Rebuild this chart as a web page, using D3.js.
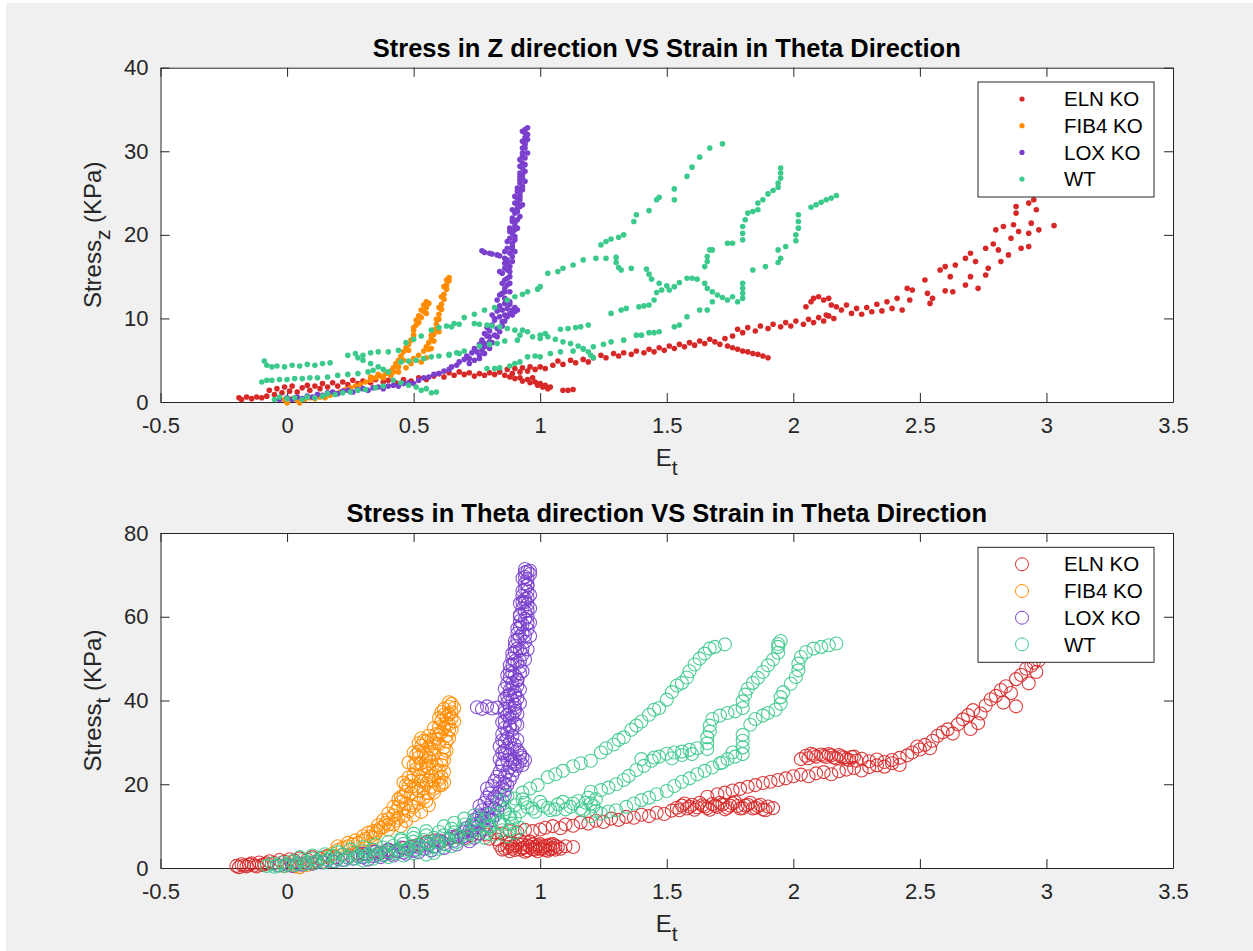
<!DOCTYPE html>
<html>
<head>
<meta charset="utf-8">
<script src="https://cdn.jsdelivr.net/npm/d3@7"></script>
<style>
  body { margin: 0; background: #ffffff; }
  text { font-family: "Liberation Sans", Arial, Helvetica, sans-serif; }
</style>
</head>
<body>
<svg id="fig" width="1253" height="951"></svg>
<script>
// ---- series and tick definitions ----
const seriesNames = ["ELN KO", "FIB4 KO", "LOX KO", "WT"];
const seriesColors = ["#d72828", "#ff8c00", "#7a40cd", "#3cc98c"];
const xTicks = [-0.5, 0, 0.5, 1, 1.5, 2, 2.5, 3, 3.5];
const xTickLabels = ["-0.5", "0", "0.5", "1", "1.5", "2", "2.5", "3", "3.5"];
const yTicksZ = [0, 10, 20, 30, 40];
const yTicksT = [0, 20, 40, 60, 80];

// ---- Stress_z vs E_t, [E_t, stress] ----
const elnZ = [
[-0.19,0.5],[-0.18,0.3],[-0.16,0.6],[-0.14,0.4],[-0.12,0.6],[-0.1,0.5],[-0.08,0.7],
[-0.07,1.4],[-0.05,0.9],[-0.04,1.6],[-0.02,1.1],[-0.01,1.8],[0.01,1.3],[0.02,1.9],[0.04,1.2],[0.06,1.7],[0.08,2.0],[0.09,1.4],[0.11,1.9],[0.13,1.6],[0.14,2.2],[0.16,1.8],[0.18,2.3],[0.2,1.9],[0.22,2.4],[0.24,2.1],[0.26,2.6],[0.28,2.2],[0.3,2.5],[0.33,2.3],[0.35,2.7],[0.38,2.4],[0.4,2.6],[0.43,2.3],[0.46,2.7],[0.49,2.5],
[0.52,2.9],[0.55,2.7],[0.58,3.1],[0.6,3.4],[0.62,3.0],[0.64,3.5],[0.66,3.2],[0.68,3.6],[0.7,3.3],[0.72,3.5],[0.74,3.1],[0.76,3.4],[0.78,3.2],[0.8,3.5],[0.82,3.3],[0.84,3.6],[0.86,3.2],[0.87,3.9],[0.89,3.4],[0.9,4.0],[0.92,3.6],[0.93,4.1],[0.95,3.7],[0.96,4.2],[0.98,3.9],[1.0,4.2],[1.02,4.0],
[0.88,3.0],[0.9,2.8],[0.92,2.9],[0.93,2.5],[0.95,2.7],[0.96,2.3],[0.98,2.4],[0.99,2.0],[1.0,2.2],[1.01,1.8],[1.02,2.0],[1.03,1.6],[1.04,1.8],[0.97,2.9],[1.09,1.4],[1.11,1.4],[1.13,1.5],
[1.05,4.4],[1.07,4.9],[1.09,4.5],[1.12,5.0],[1.14,4.7],[1.17,5.1],[1.19,4.8],[1.21,5.3],[1.24,5.6],[1.26,5.3],[1.29,5.8],[1.31,5.5],[1.33,5.9],[1.36,5.7],[1.38,6.1],[1.41,5.9],[1.43,6.3],[1.45,6.0],[1.47,6.5],[1.49,6.2],[1.51,6.7],[1.53,6.4],[1.55,6.9],[1.57,6.6],[1.59,7.1],[1.61,6.8],[1.63,7.3],[1.65,7.0],[1.67,7.5],[1.69,7.2],[1.71,6.9],[1.73,7.6],[1.74,6.7],[1.76,6.5],[1.78,6.3],[1.8,6.1],[1.82,6.0],[1.84,5.8],[1.86,5.7],[1.88,5.5],[1.9,5.3],
[1.76,7.9],[1.78,8.7],[1.8,8.3],[1.82,8.9],[1.85,8.5],[1.87,9.1],[1.9,8.8],[1.92,9.3],[1.95,9.0],[1.97,9.5],[1.99,9.1],[2.01,9.7],[2.04,9.3],[2.06,9.9],[2.08,9.5],[2.1,10.1],[2.12,9.7],[2.14,10.3],[2.16,10.0],
[2.05,11.4],[2.07,12.0],[2.08,12.4],[2.1,12.6],[2.12,12.2],[2.14,12.4],[2.15,11.6],[2.17,11.4],[2.13,10.4],[2.19,11.0],[2.21,11.6],[2.23,10.6],[2.25,11.2],[2.27,10.5],[2.29,11.3],[2.31,10.8],[2.33,11.7],[2.35,10.9],[2.37,12.0],[2.39,11.2],[2.41,12.4],[2.43,11.0],[2.45,13.6],[2.47,13.4],[2.46,12.2],[2.52,14.6],[2.53,13.0],[2.54,11.8],[2.55,12.4],
[2.58,15.8],[2.6,16.2],[2.62,15.0],[2.63,13.2],[2.6,13.3],[2.64,16.4],[2.68,17.2],[2.7,17.8],[2.72,16.8],[2.68,14.0],[2.7,15.0],[2.73,13.6],[2.76,15.2],[2.77,16.0],[2.76,18.4],[2.79,18.9],[2.81,18.2],[2.8,20.6],[2.83,21.0],[2.82,16.8],[2.85,17.6],[2.86,19.6],[2.87,21.2],[2.88,22.6],[2.88,23.4],[2.89,20.4],[2.9,18.4],[2.93,18.6],[2.93,20.2],[2.94,21.4],[2.93,23.8],[2.95,24.2],[2.96,23.0],[2.97,20.6],[3.03,21.1]
];
const fibZ = [
[-0.01,0.3],[0.0,-0.1],[0.02,0.4],[0.04,0.2],[0.05,-0.1],[0.07,0.3],[0.09,0.5],[0.11,0.4],[0.13,0.6],[0.15,0.5],[0.17,0.8],[0.19,1.0],[0.21,1.2],[0.23,1.5],[0.25,1.7],[0.27,1.9],[0.29,2.1],[0.31,2.4],[0.33,2.6],[0.35,2.9],[0.37,3.1],[0.39,3.4],[0.41,3.7],[0.42,4.1],[0.43,4.6],[0.44,5.0],[0.45,5.5],[0.46,6.0],[0.47,6.5],[0.48,6.9],[0.49,7.4],[0.5,8.0],[0.5,8.6],[0.51,9.2],[0.51,9.8],[0.52,10.3],[0.53,10.1],[0.54,10.8],[0.55,11.3],[0.56,11.8],[0.55,10.6],
[0.38,2.9],[0.41,3.2],[0.44,3.6],[0.47,4.1],[0.49,4.6],[0.5,5.2],[0.52,5.6],[0.54,6.1],[0.55,6.6],[0.56,7.1],[0.57,7.6],[0.58,7.3],[0.58,8.1],[0.59,8.7],[0.59,9.3],[0.6,9.9],[0.6,10.5],[0.61,11.1],[0.61,11.7],[0.62,12.3],[0.62,12.9],[0.63,13.5],[0.63,14.0],[0.64,14.5],[0.64,14.9],[0.57,6.4],[0.55,5.3],[0.53,4.8],
[0.5,8.9],[0.52,9.5],[0.53,11.0],[0.55,12.0],[0.54,11.6],[0.48,6.2],[0.46,5.0],[0.44,4.2],[0.42,3.6],[0.36,3.3],[0.33,3.0],[0.58,8.6],[0.57,8.0],[0.59,9.9],[0.6,11.3],[0.61,12.6],[0.62,13.8],[0.63,14.6],[0.6,8.4],[0.56,6.3]
];
const loxZ = [
[-0.03,0.3],[0.0,0.5],[0.02,0.3],[0.04,0.6],[0.06,0.4],[0.08,0.7],[0.1,0.6],[0.12,0.9],[0.14,0.8],[0.16,1.1],[0.18,1.2],[0.2,1.0],[0.22,1.3],[0.24,1.4],[0.26,1.2],[0.28,1.5],[0.3,1.6],[0.32,1.4],[0.34,1.7],[0.36,1.8],[0.38,1.6],[0.4,1.9],[0.42,2.0],[0.44,1.9],[0.46,2.2],[0.48,2.3],[0.5,2.2],[0.52,2.6],[0.54,2.9],[0.56,3.0],[0.58,3.3],[0.6,3.4],[0.62,3.7],[0.64,3.9],[0.65,4.2],[0.67,4.4],[0.68,4.8],[0.7,5.1],[0.71,5.5],[0.72,5.2],[0.73,5.9],[0.74,6.4],[0.75,6.0],[0.76,6.9],[0.77,7.4],[0.78,7.0],[0.79,7.9],[0.8,8.5],[0.79,8.9],[0.81,9.2],[0.82,9.8],[0.81,10.4],[0.83,10.9],[0.84,11.5],[0.83,12.2],
[0.76,5.2],[0.78,5.8],[0.8,6.4],[0.81,7.1],[0.83,7.8],[0.84,8.4],[0.85,9.1],[0.86,9.7],[0.87,10.2],[0.88,10.6],[0.89,11.0],[0.9,11.3],[0.91,11.0],[0.88,11.7],[0.86,12.4],
[0.85,13.0],[0.86,13.6],[0.85,14.2],[0.87,14.8],[0.85,15.4],[0.86,16.0],[0.87,16.6],[0.86,17.2],[0.88,17.8],[0.87,18.4],[0.89,19.0],[0.88,19.6],[0.89,20.2],[0.88,20.8],[0.9,21.4],[0.89,22.0],[0.9,22.6],[0.91,23.2],[0.9,23.8],[0.91,24.4],[0.92,25.0],[0.91,25.6],[0.92,26.2],[0.93,26.8],[0.92,27.4],[0.93,28.0],[0.93,28.6],[0.94,29.2],[0.93,29.8],[0.94,30.4],[0.94,31.0],[0.94,31.6],[0.94,32.2],[0.94,32.6],
[0.88,13.2],[0.87,14.0],[0.88,15.0],[0.87,15.8],[0.89,16.8],[0.88,16.2],[0.9,18.0],[0.89,18.6],[0.9,19.8],[0.91,20.8],[0.9,21.0],[0.92,22.2],[0.91,22.8],[0.93,23.6],[0.92,24.6],[0.93,25.4],[0.92,27.0],[0.94,27.6],[0.93,30.4],[0.95,31.4],[0.92,29.0],
[0.84,12.8],[0.86,13.2],[0.88,14.2],[0.86,14.6],[0.84,15.6],[0.88,15.6],[0.86,16.6],[0.89,17.4],[0.87,17.0],[0.86,18.0],[0.89,18.2],[0.87,19.2],[0.9,19.4],[0.88,20.4],[0.9,20.6],[0.89,21.6],[0.91,21.8],[0.89,23.0],[0.91,23.8],[0.92,23.4],[0.9,24.6],[0.92,24.2],[0.91,25.2],[0.93,25.8],[0.92,26.6],[0.94,26.4],[0.93,27.2],[0.92,28.2],[0.94,28.4],[0.93,29.4],[0.95,29.8],[0.94,30.8],[0.93,31.2],[0.95,32.0],[0.93,32.4],[0.95,32.8],
[0.72,4.6],[0.74,5.0],[0.76,5.6],[0.77,6.2],[0.78,6.6],[0.8,7.2],[0.82,8.0],[0.83,8.8],[0.85,9.6],[0.86,10.4],[0.85,11.0],[0.87,11.2],[0.89,10.4],[0.9,10.8],[0.88,12.0],[0.86,11.8],[0.84,10.2],[0.8,7.8],[0.78,8.2],[0.82,10.0],
[0.77,18.1],[0.78,17.9],[0.8,17.8],[0.81,17.7],[0.83,17.6],[0.84,17.5]
];
const wtZ = [
[-0.09,4.9],[-0.08,4.4],[-0.06,4.2],[-0.04,4.3],[-0.01,4.2],[0.02,4.4],[0.05,4.3],[0.08,4.5],[0.11,4.4],[0.14,4.6],[0.17,4.7],[0.24,5.6],[0.27,5.8],[0.3,5.6],[0.33,5.9],[0.36,6.0],[0.4,6.0],[0.44,6.2],[0.47,7.1],[0.5,7.5],[0.53,7.9],[0.57,8.6],[0.6,8.9],[0.63,9.1],[0.66,9.4],[0.7,10.1],[0.74,10.5],[0.78,11.0],[0.82,11.3],[0.87,12.2],[0.9,12.6],[0.93,12.9],[0.95,13.2],[0.99,13.5],[1.0,13.8],[1.03,15.4],[1.07,15.6],[1.09,16.0],[1.13,16.4],[1.17,17.0],[1.22,17.2],[1.26,17.2],[1.24,18.8],[1.26,19.2],[1.28,19.5],[1.31,19.7],[1.33,20.0],[1.37,21.6],[1.38,22.4],[1.43,22.9],[1.46,24.2],[1.47,24.5],[1.53,24.2],[1.53,25.5],[1.58,27.0],[1.6,28.1],[1.63,29.3],[1.67,30.4],[1.72,30.9],
[-0.1,2.4],[-0.08,2.6],[-0.06,2.6],[-0.03,2.7],[0.0,2.7],[0.03,2.8],[0.06,2.8],[0.09,2.9],[0.12,2.9],[0.16,3.0],[0.2,3.2],[0.24,3.3],[0.28,3.4],[0.32,3.6],[0.34,3.8],[0.28,5.3],[0.3,5.0],[0.33,4.6],[0.36,4.2],[0.38,3.9],[0.4,3.6],[0.42,2.6],[0.45,2.3],[0.48,2.0],[0.51,1.8],[0.53,1.4],[0.55,1.6],[0.57,1.1],[0.59,1.2],
[-0.05,0.3],[-0.03,0.6],[0.0,0.4],[0.03,0.5],[0.06,0.3],[0.08,0.6],[0.11,0.5],[0.14,0.7],[0.16,1.0],[0.19,0.9],[0.22,1.1],[0.25,1.2],[0.28,1.4],[0.31,1.5],[0.35,1.7],[0.38,1.9],
[0.45,4.8],[0.48,4.9],[0.51,5.0],[0.54,5.2],[0.57,5.4],[0.6,5.5],[0.64,5.7],[0.67,5.9],[0.7,6.1],[0.76,6.7],[0.8,6.9],[0.83,7.0],[0.86,7.3],[0.91,7.4],[0.92,8.0],[0.93,8.6],[0.97,7.8],[1.0,8.0],[1.02,8.2],[1.0,7.6],
[0.65,9.0],[0.68,9.3],[0.74,9.4],[0.76,9.3],[0.79,9.2],[0.81,9.1],[0.84,9.0],[0.87,8.8],[0.9,8.6],[0.95,8.4],[1.03,7.8],[1.06,7.5],[1.09,7.2],[1.12,7.0],[1.15,6.7],[1.17,6.4],[1.19,6.0],[1.2,5.6],[1.21,5.3],
[0.64,5.6],[0.68,5.8],[0.79,4.0],[0.82,4.0],[0.84,4.1],[0.88,4.3],[0.9,4.6],[0.92,4.8],[0.95,5.4],[0.98,5.5],[1.0,5.4],[1.04,5.8],[1.08,6.0],[1.13,6.1],[1.17,6.3],[1.21,6.6],[1.25,6.9],[1.28,7.2],[1.33,7.4],[1.38,8.0],[1.4,8.0],[1.43,8.3],[1.45,8.3],[1.47,8.4],[1.53,9.0],[1.55,9.2],[1.58,10.2],[1.63,11.0],[1.66,11.0],[1.68,12.0],
[1.84,15.8],[1.89,16.2],[1.94,16.7],[1.95,17.2],[1.94,18.2],[1.97,18.6],[2.01,19.3],[2.01,20.0],[2.02,20.8],[2.02,21.6],[2.02,22.4],[2.07,23.3],[2.09,23.6],[2.11,23.9],[2.13,24.2],[2.15,24.4],[2.17,24.7],
[1.08,8.7],[1.11,8.8],[1.14,8.9],[1.16,9.0],[1.19,9.2],[1.28,10.6],[1.32,11.0],[1.34,11.2],[1.39,11.4],[1.41,11.5],[1.43,11.6],[1.45,12.2],[1.46,13.1],[1.48,13.4],[1.51,13.4],[1.53,13.8],[1.55,14.3],[1.58,14.8],[1.6,14.8],[1.62,14.7],[1.65,14.2],[1.66,13.6],[1.68,13.2],[1.7,12.8],[1.72,12.5],[1.74,12.2],[1.76,12.6],[1.78,12.0],[1.8,12.4],[1.8,13.0],[1.8,13.6],[1.8,14.2],
[1.3,17.3],[1.3,16.7],[1.31,16.1],[1.32,15.8],[1.36,16.0],[1.42,15.9],[1.43,15.3],[1.44,14.7],[1.47,14.2],[1.5,13.9],
[1.65,16.2],[1.66,16.8],[1.66,17.4],[1.67,18.2],[1.68,18.2],[1.74,19.0],[1.76,19.0],[1.8,19.4],[1.8,20.2],[1.8,21.0],[1.81,21.8],[1.82,22.6],[1.84,22.8],[1.86,23.0],[1.86,23.8],[1.88,24.2],[1.9,24.9],[1.92,25.3],[1.94,25.7],[1.94,26.2],[1.95,26.8],[1.95,27.4],[1.95,28.0]
];

// ---- Stress_t vs E_t, [E_t, stress] ----
const elnT = [
[-0.2,0.5],[-0.18,0.9],[-0.16,0.4],[-0.14,1.1],[-0.13,0.6],[-0.11,1.3],[-0.09,0.9],[-0.07,1.6],[-0.05,1.2],[-0.03,1.9],[-0.01,1.5],[0.01,2.1],[0.03,1.7],[0.05,2.3],[0.08,2.0],[0.1,2.6],[0.13,2.3],[0.16,2.9],[0.19,2.6],[0.22,3.2],[0.25,3.0],[0.28,3.5],[0.31,3.3],[0.34,3.9],[0.37,3.7],[0.4,4.3],[0.43,4.1],[0.46,4.8],[0.49,5.1],[0.52,5.6],[0.55,6.2],[0.58,6.6],[0.61,6.3],[0.64,7.0],[0.67,7.4],[0.7,7.1],[0.73,7.8],[0.76,8.3],[0.79,8.0],[0.82,8.5],[0.85,8.2],[0.88,8.8],[0.91,8.5],[0.94,9.1],[0.97,8.8],[1.0,9.2],
[-0.19,0.2],[-0.17,0.6],[-0.15,0.8],[-0.12,0.4],[-0.1,0.7],[-0.08,1.1],
[0.84,5.5],[0.86,4.6],[0.87,6.2],[0.88,4.0],[0.89,5.1],[0.9,4.3],[0.91,5.8],[0.92,6.6],[0.93,4.8],[0.94,3.9],[0.95,5.4],[0.96,6.3],[0.97,4.5],[0.98,5.1],[0.99,4.0],[1.0,5.7],[1.01,4.6],[1.02,5.2],[1.03,4.1],[1.04,5.6],[1.05,4.8],[1.06,5.3],[1.1,5.2],[1.13,5.0],[0.8,7.0],[0.83,6.8],
[0.85,4.4],[0.87,5.0],[0.88,5.8],[0.89,4.6],[0.9,5.4],[0.92,4.4],[0.93,5.6],[0.94,4.9],[0.95,4.2],[0.96,5.0],[0.97,5.6],[0.98,4.4],[0.99,5.4],[1.0,4.6],[1.01,5.2],[1.02,4.3],[1.03,5.4],[1.04,4.5],[1.05,5.7],[1.06,4.4],[1.07,5.0],[1.08,4.6],
[1.02,9.6],[1.05,10.0],[1.08,9.5],[1.1,10.4],[1.13,10.1],[1.16,10.9],[1.19,10.6],[1.22,11.3],[1.25,11.0],[1.28,11.8],[1.31,11.5],[1.34,12.2],[1.37,12.0],[1.4,12.7],[1.43,12.4],[1.46,13.2],[1.49,12.9],[1.52,13.7],[1.54,14.4],[1.56,14.9],[1.58,14.2],[1.6,15.1],[1.62,14.5],[1.64,15.0],[1.66,14.3],[1.68,15.3],[1.7,14.6],[1.72,15.2],[1.74,14.4],[1.76,15.4],[1.78,14.8],[1.8,14.3],[1.82,15.1],[1.84,14.2],[1.86,14.8],[1.88,14.0],[1.9,14.7],[1.92,14.3],
[1.55,13.8],[1.57,15.4],[1.59,14.6],[1.61,13.9],[1.63,15.6],[1.65,14.7],[1.67,13.9],[1.69,14.9],[1.71,15.6],[1.73,14.0],[1.75,14.9],[1.77,15.8],[1.79,14.2],[1.81,14.9],[1.83,15.6],[1.85,14.4],[1.87,15.1],[1.89,13.8],
[1.66,17.0],[1.7,17.6],[1.73,18.0],[1.76,18.5],[1.79,18.9],[1.82,19.4],[1.85,19.8],[1.88,20.3],[1.91,20.6],[1.94,21.0],[1.97,21.4],[2.0,21.9],[2.03,22.3],[2.06,21.9],[2.09,22.6],[2.12,22.9],[2.15,22.4],[2.18,23.1],[2.21,23.5],[2.24,23.9],[2.27,23.3],[2.3,24.1],[2.33,24.5],[2.36,24.2],[2.39,25.0],[2.42,24.6],
[2.03,26.0],[2.05,26.8],[2.07,27.3],[2.09,26.6],[2.11,27.1],[2.13,26.5],[2.15,26.9],[2.17,26.2],[2.19,26.7],[2.21,26.0],[2.23,26.5],[2.25,25.6],[2.27,26.1],[2.3,25.5],[2.33,25.9],[2.36,25.3],[2.39,25.8],[2.42,26.3],[2.45,26.9],
[2.06,26.2],[2.08,27.0],[2.12,26.8],[2.14,27.2],[2.16,26.4],[2.18,27.0],[2.2,26.4],[2.22,25.8],[2.24,26.6],
[2.47,27.6],[2.49,29.0],[2.5,28.3],[2.52,29.4],[2.54,28.6],[2.55,30.4],[2.57,31.6],[2.59,32.4],[2.61,33.1],[2.63,32.1],[2.65,34.3],[2.67,35.5],[2.69,36.5],[2.7,33.2],[2.71,37.7],[2.73,34.6],[2.74,36.9],[2.76,38.8],[2.78,40.3],[2.8,41.1],[2.82,42.5],[2.83,39.5],[2.84,43.4],[2.86,41.8],[2.88,45.1],[2.88,38.6],[2.9,46.1],[2.92,47.6],[2.93,44.1],[2.94,48.3],[2.96,46.8],[2.97,49.6],[2.95,49.0]
];
const fibT = [
[-0.01,0.5],[0.01,0.9],[0.03,0.4],[0.05,0.2],[0.06,1.0],[0.08,0.7],[0.1,1.2],[0.12,1.7],[0.14,1.5],[0.16,2.6],[0.18,3.4],[0.2,4.3],[0.22,4.8],[0.24,5.2],[0.26,5.6],[0.28,6.0],[0.3,6.5],[0.31,7.0],[0.33,7.6],[0.35,8.2],[0.36,9.0],[0.38,9.8],[0.39,10.8],[0.4,11.7],[0.42,12.6],[0.43,13.6],[0.44,14.7],[0.45,15.8],[0.46,17.0],[0.47,18.2],[0.48,19.5],[0.49,20.8],[0.5,22.2],[0.51,23.6],[0.51,25.0],[0.52,26.4],[0.52,27.8],[0.53,29.2],[0.54,30.4],
[0.34,8.8],[0.37,9.6],[0.4,10.4],[0.43,11.3],[0.46,12.4],[0.48,13.6],[0.5,14.6],[0.52,15.6],[0.54,16.8],[0.56,17.9],[0.58,19.0],[0.6,19.8],[0.62,20.4],[0.61,21.8],[0.6,23.2],[0.61,24.6],[0.61,26.0],[0.62,27.4],[0.62,28.8],[0.63,30.2],[0.63,31.6],[0.64,33.0],[0.64,34.4],[0.65,35.8],[0.65,37.2],[0.64,38.5],[0.65,39.2],
[0.45,17.0],[0.47,15.4],[0.49,17.8],[0.5,19.6],[0.52,18.4],[0.53,20.8],[0.54,22.2],[0.55,20.2],[0.56,23.8],[0.57,22.0],[0.57,25.4],[0.58,27.2],[0.55,27.0],[0.56,29.0],[0.57,30.6],[0.59,32.0],[0.6,33.6],[0.61,35.2],[0.62,36.6],[0.53,25.0],[0.55,16.0],[0.51,16.6],[0.59,24.6],[0.6,29.6],[0.58,21.0],[0.54,19.0],[0.44,12.0],[0.42,10.4],
[0.4,13.0],[0.42,14.6],[0.44,16.4],[0.46,14.2],[0.47,19.8],[0.48,21.6],[0.5,24.6],[0.51,27.0],[0.52,29.8],[0.53,31.0],[0.54,27.6],[0.55,24.4],[0.56,26.4],[0.57,28.4],[0.58,29.8],[0.59,30.8],[0.6,31.8],[0.61,32.4],[0.62,33.4],[0.63,34.6],[0.63,36.2],[0.64,36.8],[0.62,38.0],[0.64,39.6],[0.66,38.2],[0.66,35.0],[0.65,33.0],[0.64,31.0],[0.63,28.0],[0.62,25.8],[0.62,23.0],[0.6,21.2],[0.58,18.0],[0.56,15.0],[0.53,13.4],[0.5,12.6],[0.47,11.2],[0.45,10.0],[0.49,15.0],[0.51,19.0],[0.52,21.8],[0.53,23.6],[0.55,25.6],[0.57,19.4],[0.59,22.8],[0.61,19.8],[0.56,21.0],[0.46,20.4],[0.48,25.2],[0.5,27.6],[0.55,30.2],[0.56,31.6],[0.58,33.4],[0.6,35.8],[0.61,37.2],
[0.3,7.6],[0.32,8.4],[0.34,7.2],[0.36,10.2],[0.38,11.4],[0.4,9.2],[0.27,6.6],[0.24,6.0],[0.2,5.2]
];
const loxT = [
[-0.03,0.6],[0.0,0.9],[0.02,0.5],[0.04,1.1],[0.06,0.8],[0.08,1.3],[0.1,1.0],[0.12,1.6],[0.14,1.3],[0.16,1.9],[0.18,1.6],[0.2,2.2],[0.22,1.9],[0.24,2.5],[0.26,2.2],[0.28,2.8],[0.3,2.5],[0.32,3.1],[0.34,2.8],[0.36,3.4],[0.38,3.1],[0.4,3.7],[0.42,3.4],[0.44,4.0],[0.46,3.7],[0.48,4.4],[0.5,4.1],[0.52,4.9],[0.54,4.6],[0.56,5.5],[0.58,5.1],[0.6,6.1],[0.62,5.8],[0.64,6.9],[0.66,6.5],[0.67,7.7],[0.69,7.3],[0.7,8.6],[0.71,9.5],[0.72,8.9],[0.73,10.4],[0.74,11.5],[0.75,10.6],[0.76,12.6],[0.77,13.8],[0.76,14.8],[0.78,15.6],[0.79,16.8],[0.8,17.8],[0.79,19.0],[0.81,19.6],[0.82,20.8],[0.83,21.8],
[0.3,3.4],[0.35,3.9],[0.4,4.4],[0.45,4.9],[0.5,5.2],[0.55,5.9],[0.6,6.6],[0.65,7.4],[0.32,2.0],[0.37,2.6],[0.42,3.0],[0.47,3.4],[0.52,3.8],[0.57,4.2],[0.62,4.8],[0.67,5.6],
[0.72,6.4],[0.74,7.2],[0.76,8.2],[0.78,9.2],[0.79,10.4],[0.81,11.5],[0.82,12.6],[0.83,13.8],[0.84,15.0],[0.85,16.2],[0.86,17.4],[0.86,18.6],[0.87,19.8],[0.88,21.0],[0.89,22.2],[0.9,23.4],[0.91,24.4],[0.92,25.4],[0.93,26.4],[0.92,27.4],[0.9,26.0],[0.91,28.2],
[0.7,7.6],[0.73,8.8],[0.75,9.6],[0.77,11.2],[0.79,13.0],[0.8,14.4],[0.81,15.8],[0.82,17.0],[0.84,18.2],[0.85,19.4],[0.84,20.6],[0.86,21.8],[0.87,23.0],[0.8,12.0],[0.78,11.8],[0.82,14.2],[0.83,16.4],[0.86,20.2],[0.74,9.8],[0.77,12.4],
[0.84,23.0],[0.85,24.5],[0.84,26.0],[0.85,27.5],[0.84,29.0],[0.85,30.5],[0.85,32.0],[0.86,33.5],[0.86,35.0],[0.87,36.5],[0.86,38.0],[0.87,39.5],[0.87,41.0],[0.88,42.5],[0.87,44.0],[0.88,45.5],[0.88,47.0],[0.89,48.5],[0.89,50.0],[0.9,51.5],[0.9,53.0],[0.91,54.5],[0.91,56.0],[0.92,57.5],[0.92,59.0],[0.92,60.5],[0.93,62.0],[0.93,63.5],[0.93,65.0],[0.94,66.5],[0.94,68.0],[0.94,69.5],[0.95,70.8],
[0.88,24.0],[0.89,25.5],[0.88,27.0],[0.89,28.5],[0.88,30.0],[0.89,31.5],[0.89,33.0],[0.9,34.5],[0.89,36.0],[0.9,37.5],[0.9,39.0],[0.91,40.5],[0.9,42.0],[0.91,43.5],[0.91,45.0],[0.92,46.5],[0.92,48.0],[0.92,49.5],[0.93,51.0],[0.93,52.5],[0.94,54.0],[0.94,55.5],[0.95,57.0],[0.95,58.5],[0.95,60.0],[0.95,61.5],[0.95,63.0],[0.95,64.5],[0.95,66.0],[0.95,67.5],[0.95,69.0],[0.94,70.6],
[0.86,28.0],[0.87,31.0],[0.88,34.0],[0.88,37.0],[0.89,40.0],[0.89,43.0],[0.9,46.0],[0.91,49.0],[0.92,52.0],[0.93,56.0],[0.94,59.5],[0.94,63.5],
[0.85,25.0],[0.87,25.8],[0.9,24.8],[0.93,24.6],[0.94,25.8],[0.92,26.8],[0.86,27.0],[0.87,28.6],[0.9,29.4],[0.91,30.6],[0.86,30.2],[0.87,32.4],[0.88,33.6],[0.91,34.2],[0.85,34.8],[0.88,35.8],[0.91,36.8],[0.86,37.2],[0.88,38.6],[0.9,38.2],[0.92,39.4],[0.86,40.4],[0.88,41.4],[0.9,41.2],[0.92,42.6],[0.86,42.8],[0.89,44.2],[0.91,44.8],[0.87,46.0],[0.89,46.6],[0.93,47.0],[0.88,48.4],[0.9,49.4],[0.94,49.8],[0.89,51.2],[0.91,52.4],[0.95,52.2],[0.9,54.2],[0.92,55.2],[0.96,55.4],[0.91,57.2],[0.93,58.2],[0.96,58.6],[0.92,60.2],[0.94,61.2],[0.96,62.0],[0.92,63.2],[0.94,64.2],[0.96,65.2],[0.93,66.2],[0.95,67.6],[0.93,69.2],[0.96,70.2],[0.94,71.4],[0.96,71.0],
[0.75,38.4],[0.77,38.0],[0.79,38.6],[0.81,38.1],[0.83,38.3]
];
const wtT = [
[-0.08,0.5],[-0.06,1.0],[-0.04,0.6],[-0.02,1.3],[0.0,0.9],[0.02,1.6],[0.04,1.1],[0.06,1.9],[0.08,1.4],[0.1,2.2],[0.12,1.7],[0.14,2.5],[0.16,2.0],[0.18,2.9],[0.2,2.3],[0.22,3.2],[0.24,2.6],[0.26,3.6],[0.28,2.9],[0.3,4.0],[0.32,3.3],[0.34,4.4],[0.36,3.6],[0.38,4.9],[0.4,4.0],[0.42,5.3],[0.44,4.4],[0.46,5.8],[0.48,4.8],[0.5,6.3],[0.52,5.3],[0.54,6.7],[0.56,5.8],[0.58,7.2],[0.6,6.2],[0.62,7.8],[0.64,6.8],[0.66,8.5],[0.68,7.4],[0.7,9.4],[0.72,8.2],[0.74,10.4],[0.76,9.0],[0.78,11.4],[0.8,10.0],[0.82,12.4],[0.84,11.0],[0.86,13.2],[0.88,12.0],
[-0.05,0.3],[-0.01,0.5],[0.03,0.7],[0.07,0.9],[0.11,1.2],[0.15,1.4],[0.19,1.6],[0.23,1.9],[0.27,2.3],[0.31,2.8],[0.35,3.0],[0.39,3.3],[0.43,3.6],[0.47,4.1],[0.51,4.4],[0.55,4.6],[0.59,5.2],[0.63,5.6],[0.67,6.2],[0.71,7.0],[0.75,7.6],[0.79,8.4],
[0.05,2.6],[0.1,3.0],[0.15,3.3],[0.2,3.8],[0.25,4.4],[0.3,5.0],[0.35,5.6],[0.4,6.2],[0.45,6.6],[0.5,7.2],[0.55,7.8],[0.6,8.6],[0.65,9.4],[0.7,10.4],[0.75,11.6],[0.8,12.8],
[0.3,1.8],[0.34,2.2],[0.4,2.6],[0.46,3.0],[0.5,3.5],[0.55,3.2],[0.58,3.6],[0.45,7.0],[0.5,8.2],[0.55,8.8],[0.62,10.0],[0.66,10.8],[0.7,11.8],[0.74,12.6],[0.6,4.6],[0.65,5.2],
[0.78,7.2],[0.82,8.0],[0.85,9.0],[0.87,7.6],[0.9,8.4],[0.92,9.6],[0.8,9.6],[0.84,10.6],
[0.88,9.2],[0.89,10.6],[0.9,12.0],[0.86,14.0],[0.88,12.8],[0.9,15.0],[0.92,13.5],[0.95,14.5],[0.98,13.4],[1.01,14.8],[1.04,13.8],[1.07,15.2],[1.1,14.0],[1.13,15.4],[1.16,14.2],[1.18,15.6],[1.19,16.8],[1.2,18.2],[1.21,14.8],[1.22,16.4],[1.22,13.6],
[0.94,15.6],[0.97,14.2],[1.0,15.8],[1.03,14.4],[1.06,14.0],[1.09,15.8],[1.12,14.6],[1.15,16.0],[1.17,13.8],[1.2,15.4],[0.93,16.4],
[0.84,16.0],[0.87,17.2],[0.9,16.6],[0.93,18.0],[0.96,19.0],[0.99,19.8],[1.03,21.7],[1.06,22.4],[1.09,23.2],[1.13,24.3],[1.16,25.0],[1.2,25.6],[1.24,27.6],[1.26,28.6],[1.29,29.5],[1.31,30.6],[1.33,31.2],[1.36,33.0],[1.38,34.0],[1.4,35.0],[1.43,36.6],[1.45,37.8],[1.47,38.2],[1.5,40.2],[1.52,42.0],[1.54,43.6],[1.56,44.2],[1.58,45.5],[1.59,47.0],[1.61,48.6],[1.63,50.0],[1.65,51.2],[1.67,52.4],[1.69,52.8],[1.73,53.4],
[1.24,18.6],[1.27,19.2],[1.3,20.0],[1.33,21.0],[1.35,22.0],[1.38,23.4],[1.41,24.4],[1.44,25.6],[1.47,26.6],[1.5,27.3],[1.53,27.6],[1.56,27.8],[1.59,28.2],[1.62,28.6],[1.66,29.8],[1.66,31.2],[1.67,32.6],[1.67,34.0],[1.68,35.6],[1.71,36.4],[1.74,37.0],[1.77,37.4],[1.8,38.2],[1.8,39.8],[1.81,41.4],[1.82,42.8],[1.84,44.2],[1.86,45.4],[1.88,46.8],[1.9,48.4],[1.92,49.8],[1.94,51.4],[1.94,52.8],[1.95,54.2],[1.94,53.5],
[1.2,12.4],[1.24,13.0],[1.27,13.5],[1.3,13.8],[1.34,14.6],[1.37,15.4],[1.4,16.2],[1.43,16.8],[1.46,17.6],[1.5,18.4],[1.53,19.6],[1.56,20.6],[1.59,21.4],[1.62,22.4],[1.65,23.2],[1.68,24.0],[1.71,25.0],[1.74,26.0],[1.77,26.6],[1.8,27.2],[1.8,28.8],[1.8,30.4],[1.8,31.8],[1.83,34.2],[1.85,35.6],[1.88,36.4],[1.9,37.0],[1.93,37.8],[1.95,39.2],[1.95,40.8],[1.96,42.0],[1.99,44.0],[2.01,45.6],[2.02,47.2],[2.02,48.8],[2.03,50.4],[2.05,51.6],[2.08,52.4],[2.11,52.8],[2.14,53.2],[2.17,53.6],
[1.4,26.0],[1.45,26.4],[1.52,26.2],[1.56,27.0],[1.6,27.2],[1.72,25.2],[1.76,27.6],[1.66,28.4]
];

// ---- figure ----
const W = 1253, H = 951;
const axisColor = "#262626";
const svg = d3.select("#fig");
svg.append("rect").attr("x", 6).attr("y", 3).attr("width", W - 6).attr("height", H - 3).attr("fill", "#f0f0f0");

const plotLeft = 160.5, plotRight = 1173;
const x = d3.scaleLinear().domain([-0.5, 3.5]).range([plotLeft, plotRight]);

const panels = [
  { top: 67.7, bottom: 402, yMax: 40, yTicks: yTicksZ, series: [elnZ, fibZ, loxZ, wtZ],
    title: "Stress in Z direction VS Strain in Theta Direction", sub: "z", hollow: false },
  { top: 533, bottom: 868, yMax: 80, yTicks: yTicksT, series: [elnT, fibT, loxT, wtT],
    title: "Stress in Theta direction VS Strain in Theta Direction", sub: "t", hollow: true }
];

function styleAxis(g) {
  g.selectAll(".domain").attr("stroke", axisColor).attr("stroke-width", 1);
  g.selectAll(".tick line").attr("stroke", axisColor).attr("stroke-width", 1);
  g.selectAll(".tick text").attr("fill", axisColor).style("font-size", "22px")
    .style("font-family", '"Liberation Sans", Arial, sans-serif');
}

panels.forEach(p => {
  const y = d3.scaleLinear().domain([0, p.yMax]).range([p.bottom, p.top]);
  const g = svg.append("g");

  // plot area
  g.append("rect").attr("x", plotLeft).attr("y", p.top)
    .attr("width", plotRight - plotLeft).attr("height", p.bottom - p.top).attr("fill", "#ffffff");

  // axes with inward ticks on all four sides
  g.append("g").attr("transform", `translate(0,${p.bottom})`)
    .call(d3.axisBottom(x).tickValues(xTicks).tickFormat((d, i) => xTickLabels[i])
      .tickSizeInner(-9).tickSizeOuter(0).tickPadding(15)).call(styleAxis);
  g.append("g").attr("transform", `translate(0,${p.top})`)
    .call(d3.axisTop(x).tickValues(xTicks).tickFormat("").tickSizeInner(-9).tickSizeOuter(0)).call(styleAxis);
  g.append("g").attr("transform", `translate(${plotLeft},0)`)
    .call(d3.axisLeft(y).tickValues(p.yTicks).tickFormat(d3.format("d"))
      .tickSizeInner(-9).tickSizeOuter(0).tickPadding(12)).call(styleAxis);
  g.append("g").attr("transform", `translate(${plotRight},0)`)
    .call(d3.axisRight(y).tickValues(p.yTicks).tickFormat("").tickSizeInner(-9).tickSizeOuter(0)).call(styleAxis);

  // data marks, later series on top
  p.series.forEach((pts, si) => {
    const sel = g.append("g").selectAll("circle").data(pts).join("circle")
      .attr("cx", d => x(d[0])).attr("cy", d => y(d[1]));
    if (p.hollow) {
      sel.attr("r", 6.5).attr("fill", "none").attr("stroke", seriesColors[si])
        .attr("stroke-width", 1.1).attr("stroke-opacity", 0.9);
    } else {
      sel.attr("r", 2.8).attr("fill", seriesColors[si]);
    }
  });

  // title
  svg.append("text").attr("x", (plotLeft + plotRight) / 2).attr("y", p.top - 11)
    .attr("text-anchor", "middle").attr("font-weight", "bold").attr("font-size", 25.5)
    .attr("fill", "#000").text(p.title);

  // x label E_t
  const xl = svg.append("text").attr("x", (plotLeft + plotRight) / 2).attr("y", p.bottom + 64)
    .attr("text-anchor", "middle").attr("font-size", 24).attr("fill", axisColor);
  xl.append("tspan").text("E");
  xl.append("tspan").attr("dy", 9).attr("font-size", 21).text("t");

  // y label Stress_sub (KPa)
  const cy = (p.top + p.bottom) / 2;
  const yl = svg.append("text").attr("transform", `translate(101,${cy}) rotate(-90)`)
    .attr("text-anchor", "middle").attr("font-size", 24).attr("fill", axisColor);
  yl.append("tspan").text("Stress");
  yl.append("tspan").attr("dy", 9).attr("font-size", 21).text(p.sub);
  yl.append("tspan").attr("dy", -9).text(" (KPa)");

  // legend
  const lx = 978, ly = p.top + 14.3, lw = 176, lh = 115;
  const lg = svg.append("g");
  lg.append("rect").attr("x", lx).attr("y", ly).attr("width", lw).attr("height", lh)
    .attr("fill", "#ffffff").attr("stroke", axisColor).attr("stroke-width", 1);
  seriesNames.forEach((name, i) => {
    const ry = ly + 17 + i * 26.7;
    if (p.hollow) {
      lg.append("circle").attr("cx", lx + 44).attr("cy", ry).attr("r", 6.5)
        .attr("fill", "none").attr("stroke", seriesColors[i]).attr("stroke-width", 1);
    } else {
      lg.append("circle").attr("cx", lx + 44).attr("cy", ry).attr("r", 2.6).attr("fill", seriesColors[i]);
    }
    lg.append("text").attr("x", lx + 86).attr("y", ry).attr("dy", "0.35em")
      .attr("font-size", 20.5).attr("fill", "#000").text(name);
  });
});
</script>
</body>
</html>
